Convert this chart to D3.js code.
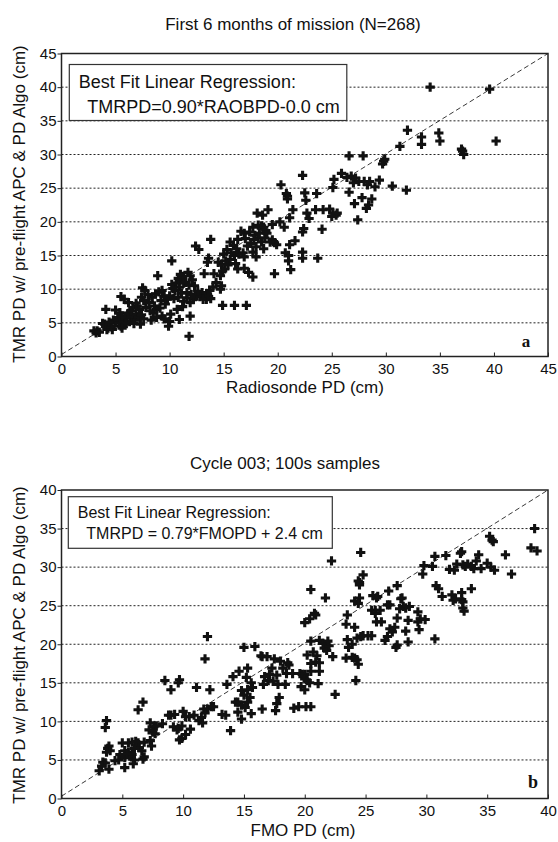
<!DOCTYPE html>
<html><head><meta charset="utf-8">
<script src="https://cdn.jsdelivr.net/npm/d3@7"></script>
<style>body{margin:0;background:#fff}svg{display:block}text{font-family:"Liberation Sans",Arial,sans-serif;fill:#111}</style>
</head><body>
<svg id="c" width="558" height="842"></svg>
<script>
// ---------- data ----------
const topTitle = "First 6 months of mission (N=268)";
const topXLabel = "Radiosonde PD (cm)";
const yLabel = "TMR PD w/ pre-flight APC & PD Algo (cm)";
const topTicks = [0,5,10,15,20,25,30,35,40,45];
const topLegend = ["Best Fit Linear Regression:", "TMRPD=0.90*RAOBPD-0.0 cm"];
const topPoints = [
[34.1,40.0],[39.6,39.7],[32.0,33.6],[33.3,32.6],[33.3,31.5],[34.9,33.2],[35.0,32.0],[40.2,32.0],[37.1,30.5],[37.2,30.0],[37.0,30.8],[31.3,31.2],[29.8,29.0],[29.7,28.6],[29.9,29.3],[26.6,29.8],[27.9,29.8],[30.6,25.3],[31.9,24.7],[29.4,26.2],[25.9,27.2],[26.8,26.8],[27.2,26.5],[27.5,26.0],[26.6,24.4],[28.0,26.0],[28.3,25.5],[28.5,26.0],[29.0,25.2],[27.8,23.6],[27.1,22.7],[28.7,23.4],[28.4,22.5],[28.2,22.0],[27.4,20.3],[25.1,25.1],[25.2,26.3],[24.8,21.9],[25.1,21.3],[25.4,21.0],[25.0,20.8],[24.2,21.8],[23.5,21.8],[23.6,24.2],[22.5,24.3],[22.3,26.9],[22.6,23.2],[21.4,21.8],[21.1,20.6],[20.3,25.5],[20.8,24.2],[20.9,23.8],[20.9,23.4],[20.2,20.0],[22.9,20.5],[22.4,19.0],[22.3,18.5],[24.1,18.9],[22.3,15.5],[22.3,14.6],[23.7,14.6],[21.0,15.0],[21.0,14.2],[20.7,15.4],[21.2,12.9],[21.1,16.6],[19.7,12.3],[19.5,17.3],[19.7,16.9],[19.9,16.6],[19.3,17.0],[19.5,19.6],[18.6,21.0],[18.1,21.3],[19.1,21.8],[18.5,19.4],[18.7,19.2],[17.9,18.0],[18.2,17.6],[18.5,17.0],[17.8,17.4],[18.3,18.3],[17.7,19.2],[16.9,18.3],[16.6,18.6],[18.7,16.0],[17.7,15.5],[18.0,14.8],[17.3,12.5],[17.7,11.8],[16.8,15.4],[16.0,15.0],[16.4,15.2],[16.9,14.8],[16.3,17.4],[15.9,16.5],[15.6,17.0],[16.9,13.1],[16.3,13.0],[15.2,14.2],[14.8,13.7],[15.1,13.0],[14.9,12.7],[14.7,12.0],[14.8,10.5],[14.7,10.0],[14.3,11.0],[14.1,12.3],[13.6,14.6],[13.5,14.0],[13.2,12.3],[13.8,17.4],[12.4,16.4],[12.7,15.9],[14.9,7.6],[16.0,7.6],[17.1,7.6],[13.5,9.3],[13.4,8.5],[13.2,9.0],[13.6,8.9],[13.0,9.5],[12.3,10.5],[11.9,12.0],[11.7,12.5],[12.2,8.5],[11.9,8.0],[11.6,8.7],[11.3,8.2],[11.9,6.0],[11.8,3.0],[11.0,11.5],[10.6,10.9],[10.9,10.3],[11.3,10.9],[10.2,10.7],[10.5,9.8],[10.2,14.2],[8.9,12.0],[10.0,9.0],[9.8,8.5],[9.2,8.3],[9.5,8.9],[10.7,7.0],[10.9,5.5],[10.0,5.2],[9.9,4.5],[9.3,6.0],[8.8,5.8],[8.5,6.5],[8.8,7.0],[7.5,10.2],[7.7,9.8],[8.0,9.2],[7.4,8.8],[7.0,7.5],[6.6,7.3],[6.2,8.0],[5.8,8.5],[5.5,8.9],[4.1,7.0],[5.0,6.9],[5.4,6.5],[6.0,6.0],[6.6,5.8],[6.9,6.3],[5.7,5.5],[5.2,5.8],[6.3,5.2],[4.5,4.5],[4.3,4.2],[4.7,4.0],[4.0,4.8],[3.8,4.9],[3.3,3.8],[3.2,3.5],[3.0,3.8],[5.5,4.5],[7.3,4.8],
[4.2,4.0],[4.6,4.4],[5.0,5.0],[5.3,5.2],[5.6,6.0],[5.9,5.8],[6.2,6.4],[6.5,6.1],[6.8,5.4],[7.1,5.9],[7.4,6.2],[7.6,5.6],[7.2,7.0],[4.8,5.4],[6.0,4.9],[6.4,6.8],[7.8,7.3],[8.2,6.8],[8.1,8.0],[7.6,8.3],[6.9,7.9],[3.5,3.6],[4.4,5.1],[5.6,4.2],[6.7,4.9],
[8.4,8.8],[8.7,9.3],[9.0,9.6],[9.3,9.8],[8.6,7.5],[9.1,7.2],[9.6,7.8],[8.3,5.4],[9.5,5.6],
[10.3,10.1],[10.8,11.6],[11.2,11.9],[11.5,11.0],[11.8,10.6],[12.1,11.4],[10.4,8.6],[10.8,8.8],[11.1,9.4],[11.6,9.5],[12.0,9.2],[12.4,8.9],[11.2,7.4],[10.1,6.3],[11.0,12.2],
[12.8,8.9],[13.1,8.5],[13.8,8.6],[12.6,9.7],[13.7,9.8],[14.0,10.3],
[15.4,13.6],[15.6,14.4],[15.0,15.2],[15.3,15.9],[15.7,15.4],[14.5,14.0],[16.2,16.0],[17.2,16.4],[17.0,17.5],[16.1,13.8],
[17.5,16.8],[18.0,16.3],[18.8,17.6],[19.0,18.3],[18.2,19.5],[17.4,18.5],[18.9,18.7],
[21.6,17.2],[20.6,19.2],[22.7,21.3],[26.4,26.6],[27.0,25.8],[25.5,21.3]
];

const botTitle = "Cycle 003; 100s samples";
const botXLabel = "FMO PD (cm)";
const botTicks = [0,5,10,15,20,25,30,35,40];
const botLegend = ["Best Fit Linear Regression:", "TMRPD = 0.79*FMOPD + 2.4 cm"];
const botPoints = [
[38.9,35.0],[38.6,32.5],[39.1,32.1],[35.2,34.0],[35.4,33.5],[35.5,33.3],[36.5,31.6],[37.0,29.1],[35.0,30.5],[35.3,30.0],[35.6,29.6],[34.3,31.6],[34.1,30.8],[33.9,29.8],[33.7,30.1],[34.5,29.8],[33.7,27.2],[32.9,32.0],[32.8,31.8],[32.5,30.4],[33.0,30.3],[33.2,30.1],[32.3,29.6],[31.6,31.5],[30.7,31.4],[30.5,30.1],[29.8,30.2],[29.7,29.1],[30.8,27.6],[31.0,27.2],[31.3,26.2],[32.1,26.4],[32.2,25.7],[32.9,26.7],[32.9,25.8],[33.0,25.5],[33.0,24.7],[33.1,24.3],[32.4,25.9],[30.7,20.7],[29.5,23.3],[29.9,23.2],[29.3,24.2],[29.3,22.9],[29.4,21.9],[28.6,24.9],[28.3,24.7],[28.1,24.9],[27.9,25.9],[28.0,26.0],[27.8,24.6],[28.5,23.1],[28.3,21.7],[28.5,20.3],[27.6,23.4],[27.4,22.2],[27.0,22.0],[27.2,21.6],[26.6,20.5],[26.8,21.0],[27.6,19.9],[27.5,19.6],[27.6,27.6],[26.9,26.9],[27.0,25.1],[26.0,26.2],[25.6,26.3],[25.9,26.0],[25.5,24.4],[25.8,24.4],[26.2,24.4],[25.8,24.0],[26.3,22.9],[25.9,22.9],[25.2,21.1],[24.8,21.1],[25.5,21.1],[24.5,26.0],[24.1,25.6],[24.4,25.3],[24.5,27.7],[24.5,28.0],[24.4,28.2],[24.6,31.9],[24.8,29.0],[22.2,30.8],[23.5,23.8],[23.4,22.6],[24.1,22.2],[23.5,20.6],[23.9,20.0],[24.3,20.8],[24.6,21.0],[23.6,19.6],[23.4,18.2],[23.9,18.3],[24.1,18.2],[24.4,17.4],[24.3,18.0],[24.2,15.3],[22.5,13.5],[22.3,18.4],[21.7,26.0],[20.5,27.1],[20.0,22.8],[20.4,23.3],[20.8,24.0],[20.9,23.8],[20.5,20.4],[21.2,20.5],[21.5,20.1],[21.6,19.5],[21.8,19.2],[20.7,19.0],[20.2,18.6],[21.0,18.5],[20.9,17.7],[20.5,17.5],[21.2,17.6],[21.2,16.5],[20.5,16.5],[21.1,14.9],[19.6,16.2],[19.8,16.1],[20.0,16.1],[20.0,15.5],[20.2,15.3],[20.4,15.0],[19.7,14.5],[20.0,14.1],[19.5,11.9],[20.1,11.9],[20.5,11.9],[19.1,11.7],[18.5,16.2],[18.2,16.9],[18.7,17.3],[18.6,17.6],[18.0,17.8],[17.7,16.0],[17.4,15.2],[18.4,14.8],[17.9,13.1],[17.7,12.3],[17.6,11.4],[16.5,11.6],[17.3,16.9],[17.1,16.1],[17.0,15.3],[16.6,14.8],[17.8,14.8],[17.5,18.1],[16.5,18.4],[16.9,18.4],[16.7,15.8],[15.9,19.7],[15.0,19.6],[15.6,15.0],[15.7,14.4],[15.2,15.7],[15.3,14.1],[14.8,14.0],[15.3,16.9],[14.6,16.5],[14.1,15.8],[15.0,13.4],[15.5,13.1],[15.3,12.5],[14.8,12.1],[14.5,12.5],[15.1,11.8],[15.6,11.0],[14.8,10.3],[14.5,11.2],[14.3,12.5],[13.6,14.8],[13.2,10.9],[13.5,10.8],[13.9,8.8],[12.2,14.1],[11.8,18.1],[12.0,21.0],[11.1,14.4],[12.3,11.9],[12.0,11.6],[11.7,11.6],[11.8,11.1],[11.5,10.5],[11.3,10.1],[11.6,9.8],[10.9,10.8],[10.5,10.6],[10.2,10.6],[10.6,9.0],[10.2,8.3],[9.9,7.8],[9.7,7.6],[10.0,11.3],[9.3,10.9],[9.0,10.8],[8.8,10.8],[9.7,15.4],[9.6,15.0],[9.0,14.1],[8.5,15.3],[8.3,9.7],[9.2,9.3],[9.6,9.1],[9.9,9.4],[9.5,8.9],[7.3,9.8],[7.6,9.3],[7.8,9.4],[7.5,8.6],[7.7,8.4],[7.2,8.9],[6.7,12.5],[6.3,11.5],[6.8,7.3],[7.3,7.5],[7.4,6.8],[6.6,6.2],[6.4,6.6],[6.3,7.2],[5.8,7.3],[5.5,7.2],[6.0,6.5],[5.0,7.2],[5.2,6.2],[5.5,6.0],[5.8,5.7],[4.8,5.7],[4.7,5.0],[5.2,5.3],[5.6,5.5],[6.0,5.0],[6.7,5.1],[6.8,5.4],[5.9,4.5],[5.2,4.0],[4.4,4.9],[3.7,10.1],[3.6,9.2],[3.8,6.5],[3.9,6.8],[4.0,6.2],[3.7,6.0],[3.4,4.7],[3.6,4.6],[3.3,4.2],[3.9,3.8],[3.1,3.6],
[16.4,18.5],[19.0,16.2],[22.0,19.8],[21.9,20.4],[26.8,25.1],[31.9,29.7],[33.4,30.4],[12.5,11.9],[6.1,7.4],[5.4,5.8]
];

// ---------- drawing ----------
const svg = d3.select("#c");

function panel(cfg){
  const {L,R,T,B,max,ticks,points,title,titleX,titleY,xlabel,xlabX,xlabY,ylabY,legend,lg,letter,letX,letY,letSize} = cfg;
  const x = d3.scaleLinear().domain([0,max]).range([L,R]);
  const y = d3.scaleLinear().domain([0,max]).range([B,T]);
  const g = svg.append("g");
  // gridlines
  g.selectAll("line.grid").data(ticks.filter(t=>t>0 && t<max)).join("line")
    .attr("x1",L).attr("x2",R).attr("y1",d=>y(d)).attr("y2",d=>y(d))
    .attr("stroke","#222").attr("stroke-width",1).attr("stroke-dasharray","2,2");
  // 1:1 line
  g.append("line").attr("x1",x(0)).attr("y1",y(0.3)).attr("x2",x(max)).attr("y2",y(max))
    .attr("stroke","#222").attr("stroke-width",0.9).attr("stroke-dasharray","5,3");
  // points
  const sym = d3.symbol(d3.symbolCross, 48);
  g.selectAll("path.pt").data(points).join("path")
    .attr("d",sym).attr("transform",d=>`translate(${x(d[0])},${y(d[1])})`).attr("fill","#111");
  // legend
  g.append("rect").attr("x",lg.x).attr("y",lg.y).attr("width",lg.w).attr("height",lg.h)
    .attr("fill","#fff").attr("stroke","#333").attr("stroke-width",1.2);
  g.append("text").attr("x",lg.x+9.5).attr("y",lg.l1).attr("font-size",lg.fs).text(legend[0]);
  g.append("text").attr("x",lg.x+18).attr("y",lg.l2).attr("font-size",lg.fs).text(legend[1]);
  // frame
  g.append("rect").attr("x",L).attr("y",T).attr("width",R-L).attr("height",B-T)
    .attr("fill","none").attr("stroke","#222").attr("stroke-width",1.5);
  // axes
  const ax = g.append("g").attr("transform",`translate(0,${B})`)
    .call(d3.axisBottom(x).tickValues(ticks).tickSize(-4).tickPadding(7).tickFormat(d3.format("d")));
  ax.select(".domain").remove();
  ax.selectAll("text").attr("font-size",15).attr("dy","0.71em").style("font-family","Liberation Sans, Arial, sans-serif").attr("fill","#111");
  ax.selectAll("line").attr("stroke","#222");
  const ay = g.append("g").attr("transform",`translate(${L},0)`)
    .call(d3.axisLeft(y).tickValues(ticks).tickSize(4).tickPadding(1).tickFormat(d3.format("d")));
  ay.select(".domain").remove();
  ay.selectAll("text").attr("font-size",15).style("font-family","Liberation Sans, Arial, sans-serif").attr("fill","#111");
  ay.selectAll("line").attr("stroke","#222");
  // titles
  g.append("text").attr("x",titleX).attr("y",titleY).attr("text-anchor","middle").attr("font-size",17).text(title);
  g.append("text").attr("x",xlabX).attr("y",xlabY).attr("text-anchor","middle").attr("font-size",17).text(xlabel);
  g.append("text").attr("transform",`translate(25,${ylabY}) rotate(-90)`).attr("text-anchor","middle").attr("font-size",17).text(yLabel);
  g.append("text").attr("x",letX).attr("y",letY).attr("text-anchor","middle")
    .style("font-family","Liberation Serif, Times New Roman, serif").attr("font-weight","bold").attr("font-size",letSize).text(letter);
}

panel({L:61.5,R:548,T:53.5,B:356.5,max:45,ticks:topTicks,points:topPoints,
  title:topTitle,titleX:293,titleY:30,xlabel:topXLabel,xlabX:305,xlabY:393,ylabY:204,
  legend:topLegend,lg:{x:69.3,y:64.5,w:277.5,h:56,fs:18,l1:87.5,l2:112.5},
  letter:"a",letX:526,letY:347,letSize:17});
panel({L:61.5,R:548,T:490,B:798.5,max:40,ticks:botTicks,points:botPoints,
  title:botTitle,titleX:285,titleY:469,xlabel:botXLabel,xlabX:303,xlabY:836,ylabY:645,
  legend:botLegend,lg:{x:68.3,y:496.7,w:264,h:51.6,fs:16,l1:517.5,l2:538.5},
  letter:"b",letX:533,letY:788,letSize:18});
</script>
</body></html>
